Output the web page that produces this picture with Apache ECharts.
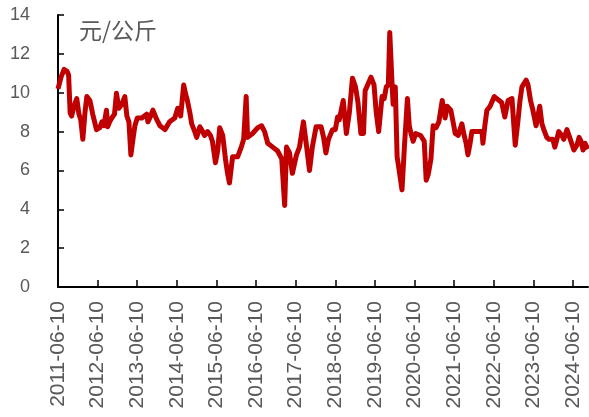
<!DOCTYPE html>
<html>
<head>
<meta charset="utf-8">
<script src="https://cdn.jsdelivr.net/npm/echarts@6/dist/echarts.min.js"></script>
<style>
  html, body { margin: 0; padding: 0; background: #fff; }
  #main { width: 589px; height: 417px; }
</style>
</head>
<body>
<div id="main"></div>
<script>
// 价格走势 (元/公斤), 近似值
var dates = [
  '2011-06-10','2011-07-08','2011-08-05','2011-09-02','2011-09-16','2011-09-30','2011-10-14','2011-11-04','2011-11-30','2011-12-20',
  '2012-01-06','2012-01-25','2012-02-14','2012-03-02','2012-03-30','2012-04-25','2012-05-10','2012-05-30','2012-06-30','2012-07-19',
  '2012-08-06','2012-08-30','2012-09-10','2012-09-28','2012-10-18','2012-11-12','2012-11-30','2012-12-22','2013-01-18','2013-02-15',
  '2013-03-06','2013-03-25','2013-04-12','2013-05-01','2013-05-19','2013-06-10','2013-07-22','2013-09-05','2013-09-16','2013-10-04',
  '2013-11-01','2013-12-08','2014-01-05','2014-02-20','2014-04-04','2014-05-22','2014-06-18','2014-07-15','2014-08-12','2014-08-31',
  '2014-09-15','2014-10-07','2014-10-25','2014-11-22','2014-12-10','2015-01-08','2015-02-03','2015-02-20','2015-03-20','2015-04-16',
  '2015-05-04','2015-06-01','2015-06-21','2015-07-10','2015-08-07','2015-09-03','2015-09-22','2015-10-08','2015-10-28','2015-11-06',
  '2015-12-22','2016-01-25','2016-02-16','2016-03-10','2016-03-23','2016-05-08','2016-06-25','2016-07-30','2016-08-27','2016-09-25',
  '2016-11-10','2016-12-25','2017-02-01','2017-02-28','2017-03-17','2017-04-14','2017-05-10','2017-06-17','2017-07-15','2017-08-20',
  '2017-09-19','2017-10-15','2017-11-10','2017-12-15','2018-01-30','2018-02-22','2018-03-15','2018-04-08','2018-05-15','2018-06-10',
  '2018-07-01','2018-07-16','2018-08-22','2018-09-20','2018-10-18','2018-11-15','2018-12-13','2019-01-05','2019-02-01','2019-02-25',
  '2019-03-12','2019-05-05','2019-06-02','2019-06-22','2019-07-15','2019-08-15','2019-09-04','2019-09-23','2019-10-12','2019-10-25',
  '2019-11-15','2019-11-25','2019-12-15','2020-01-01','2020-01-20','2020-02-15','2020-03-08','2020-04-05','2020-04-22','2020-05-08',
  '2020-05-28','2020-06-20','2020-08-05','2020-09-07','2020-09-25','2020-10-14','2020-11-08','2020-11-28','2020-12-25','2021-01-20',
  '2021-02-20','2021-03-18','2021-04-06','2021-05-10','2021-05-31','2021-06-20','2021-07-17','2021-08-20','2021-09-10','2021-09-28',
  '2021-10-15','2021-11-04','2021-11-20','2022-01-05','2022-02-22','2022-03-02','2022-03-22','2022-04-08','2022-05-07','2022-06-15',
  '2022-07-30','2022-08-22','2022-09-20','2022-10-20','2022-11-25','2022-12-25','2023-01-20','2023-02-07','2023-02-25','2023-04-05',
  '2023-04-22','2023-05-15','2023-06-06','2023-07-05','2023-08-08','2023-08-28','2023-09-15','2023-10-12','2023-11-01','2023-11-19',
  '2023-12-07','2023-12-25','2024-01-13','2024-01-30','2024-02-28','2024-03-17','2024-04-15','2024-05-10','2024-05-28','2024-06-18',
  '2024-07-16','2024-08-05','2024-08-23','2024-09-10','2024-09-28','2024-10-25'
];
var prices = [
  10.2,10.8,11.2,11.1,10.9,8.95,8.8,9.3,9.7,8.9,
  8.6,7.6,9.0,9.8,9.6,8.9,8.8,8.1,8.2,8.5,
  8.3,9.1,8.25,8.5,8.7,8.9,9.97,9.2,9.4,9.8,
  8.8,8.5,6.8,7.6,8.3,8.7,8.7,8.9,8.5,8.7,
  9.1,8.6,8.3,8.1,8.5,8.7,9.2,8.8,10.4,9.9,
  9.6,9.0,8.4,8.0,7.7,8.25,8.0,7.8,8.0,7.8,
  7.5,6.4,7.0,8.2,7.8,6.5,5.8,5.35,6.3,6.7,
  6.7,7.2,7.6,9.8,7.7,7.9,8.2,8.3,8.0,7.4,
  7.2,7.0,6.6,4.2,7.2,6.9,5.85,6.8,7.2,8.5,
  7.2,6.0,7.2,8.25,8.25,7.7,6.9,7.6,8.1,8.1,
  8.75,8.6,9.6,7.9,9.0,10.75,10.3,9.5,7.9,7.9,
  10.1,10.8,10.4,9.0,8.0,9.8,9.7,10.3,10.4,13.1,
  10.5,9.4,10.3,6.7,6.0,5.0,7.2,9.7,8.3,7.9,
  7.5,7.9,7.8,7.5,5.5,5.8,6.6,8.3,8.2,8.5,
  9.6,8.7,9.3,9.1,8.5,7.9,7.8,8.4,7.8,7.4,
  6.8,7.4,8.0,8.0,8.0,7.4,8.4,9.1,9.3,9.8,
  9.6,9.5,8.75,9.6,9.7,7.3,8.6,9.6,10.3,10.65,
  10.4,9.6,9.1,8.3,9.3,8.4,8.1,7.7,7.6,7.5,
  7.6,7.2,7.6,8.0,7.8,7.6,8.1,7.7,7.6,7.05,
  7.3,7.7,7.5,7.05,7.4,7.1
];
var startDate = '2011-06-10';
var yTicks = [0, 2, 4, 6, 8, 10, 12, 14];

var YEAR_MS = 365.25 * 86400000;
var t0 = Date.parse(startDate);
var seriesData = dates.map(function (d, i) {
  return [(Date.parse(d) - t0) / YEAR_MS, prices[i]];
});

var chart = echarts.init(document.getElementById('main'));
chart.setOption({
  animation: false,
  title: {
    text: '元/公斤',
    left: 74,
    top: 14,
    textStyle: {
      color: '#595959',
      fontSize: 23,
      fontWeight: 'normal',
      fontFamily: '"Noto Sans CJK SC", sans-serif'
    }
  },
  grid: { left: 58, right: 1, top: 15, bottom: 130, containLabel: false },
  xAxis: {
    type: 'value',
    min: 0,
    max: 13.38,
    interval: 1,
    splitLine: { show: false },
    axisLine: { lineStyle: { color: '#000', width: 2 } },
    axisTick: { show: true, inside: true, length: 7, lineStyle: { color: '#000', width: 1.5 } },
    axisLabel: {
      rotate: 90,
      margin: 14,
      color: '#595959',
      fontSize: 21,
      fontFamily: '"Liberation Sans", Arial, sans-serif',
      showMaxLabel: false,
      formatter: function (v) {
        return (Math.round(v) + 2011) + '-06-10';
      }
    }
  },
  yAxis: {
    type: 'value',
    min: yTicks[0],
    max: yTicks[yTicks.length - 1],
    interval: 2,
    splitLine: { show: false },
    axisLine: { show: true, lineStyle: { color: '#000', width: 2 } },
    axisTick: { show: true, inside: true, length: 6, lineStyle: { color: '#000', width: 1.5 } },
    axisLabel: {
      margin: 28,
      color: '#595959',
      fontSize: 18,
      fontFamily: '"Liberation Sans", Arial, sans-serif'
    }
  },
  series: [{
    type: 'line',
    data: seriesData,
    showSymbol: false,
    smooth: false,
    lineStyle: { color: '#C00000', width: 5, join: 'round' }
  }]
});
</script>
</body>
</html>
